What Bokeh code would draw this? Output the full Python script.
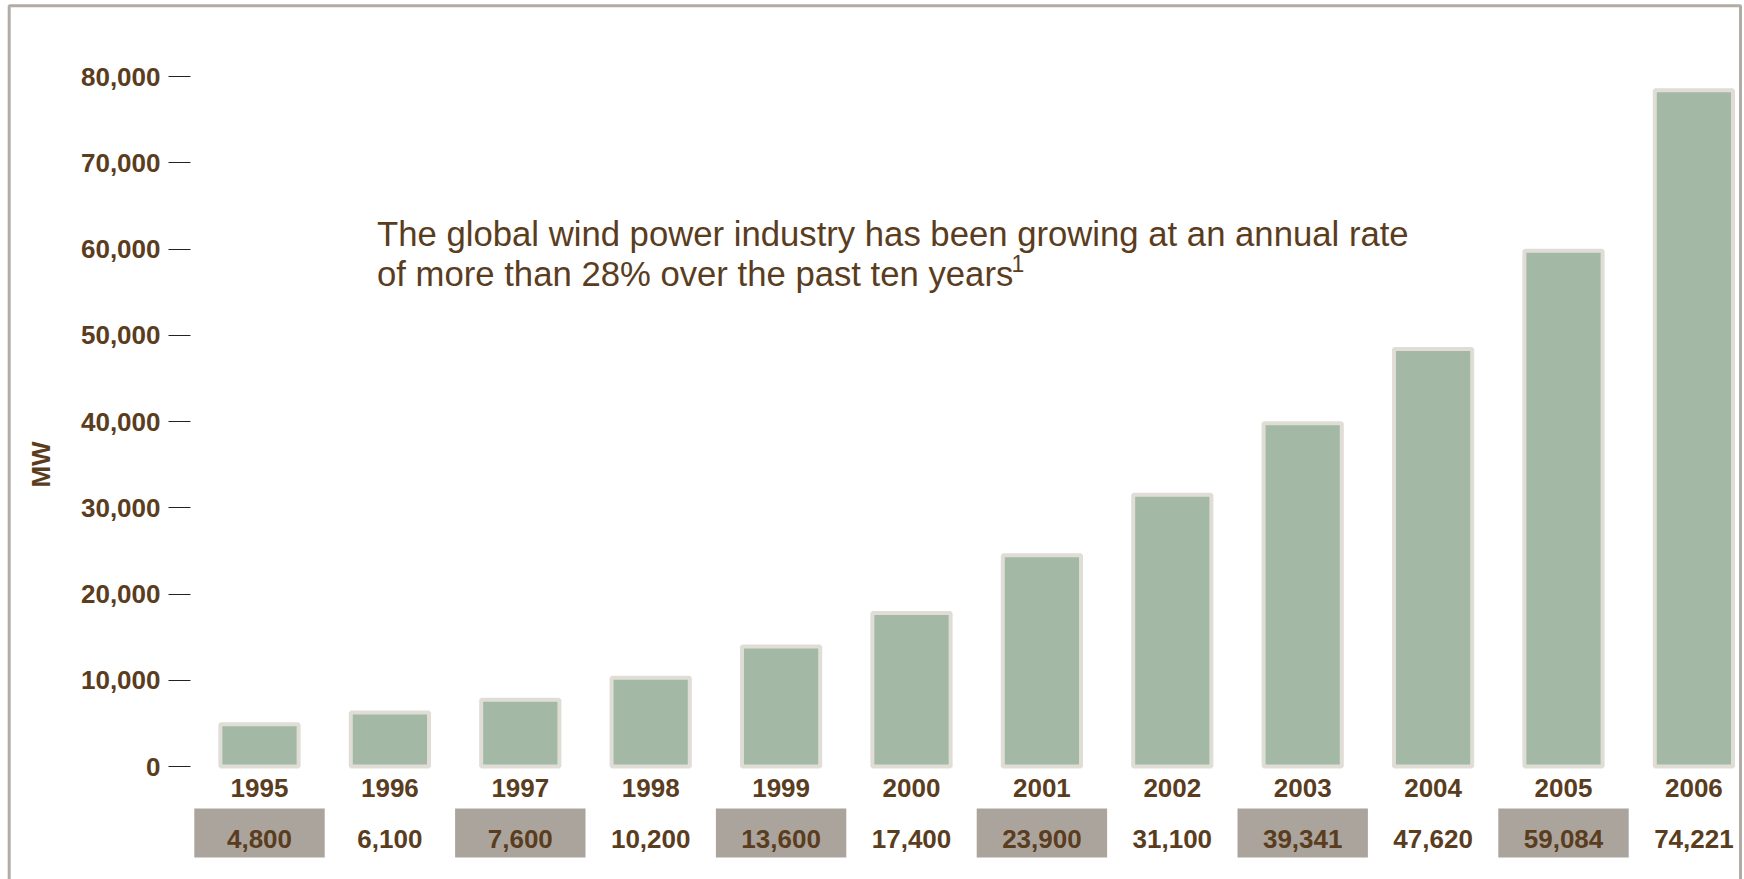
import math
from bokeh.plotting import figure
from bokeh.models import (Range1d, LinearAxis, FixedTicker, NumeralTickFormatter,
                          Label, BoxAnnotation, ColumnDataSource)
from bokeh.core.properties import value
from bokeh.embed import file_html
from bokeh.resources import INLINE

# ---------------- data ----------------
years = ["1995", "1996", "1997", "1998", "1999", "2000",
         "2001", "2002", "2003", "2004", "2005", "2006"]
# bar heights as drawn (MW)
bar_mw = [4900, 6250, 7750, 10300, 13900, 17800,
          24500, 31500, 39800, 48400, 59800, 78400]
# value row printed under the years
table_labels = ["4,800", "6,100", "7,600", "10,200", "13,600", "17,400",
                "23,900", "31,100", "39,341", "47,620", "59,084", "74,221"]
shaded_years = ["1995", "1997", "1999", "2001", "2003", "2005"]
y_ticks = [0, 10000, 20000, 30000, 40000, 50000, 60000, 70000, 80000]
y_label = "MW"
note_line1 = "The global wind power industry has been growing at an annual rate"
note_line2 = "of more than 28% over the past ten years"
note_sup = "1"

# ---------------- layout (pixels) ----------------
W, H = 1744, 879
X0_PX, X_STEP = 259.0, 130.4           # centre of first category, px per category
Y0_PX, Y_SCALE = 766.0, 690.0 / 80000  # pixel row of 0 MW, px per MW


def xd(px):
    return (px - X0_PX) / X_STEP


def yd(py):
    return (Y0_PX - py) / Y_SCALE


BROWN = "#5a3d1e"
BAR_FILL = "#a3b9a5"
BAR_EDGE = "#dfddd6"
BOX_FILL = "#aba49d"
FRAME = "#b3aca5"
FONT = "Liberation Sans"
LBL = "26px"

idx = list(range(len(years)))
src = ColumnDataSource(dict(x=idx, mw=bar_mw, label=table_labels, year=years))
shaded_idx = [years.index(y) for y in shaded_years]

p = figure(width=W, height=H, output_backend="svg", toolbar_location=None,
           x_range=Range1d(xd(0), xd(W)), y_range=Range1d(yd(H), yd(0)),
           x_axis_location=None, y_axis_location=None, min_border=0,
           outline_line_color=None, background_fill_color="white",
           border_fill_color="white")
p.grid.visible = False

# outer frame
p.add_layout(BoxAnnotation(left=xd(8.7), right=xd(1740), top=yd(5.3), bottom=yd(H + 40),
                           fill_alpha=0, line_color=FRAME, line_alpha=1.0,
                           line_width=3, level="underlay"))

# bars
p.vbar(x="x", top="mw", bottom=0, width=0.6, source=src,
       fill_color=BAR_FILL, line_color=BAR_EDGE, line_width=4)

# shaded boxes of value row
p.rect(x=shaded_idx, y=yd(832.5), width=1.0, height=49 / Y_SCALE,
       fill_color=BOX_FILL, line_color=None)

# value row text
p.text(x="x", y=yd(838), text="label", source=src,
       text_font=value(FONT), text_font_style="bold", text_font_size=value(LBL),
       text_color=BROWN, text_align="center", text_baseline="middle")

# y axis
yaxis = LinearAxis(fixed_location=xd(190), ticker=FixedTicker(ticks=y_ticks),
                   formatter=NumeralTickFormatter(format="0,0"))
yaxis.axis_line_color = None
yaxis.major_tick_out = 22
yaxis.major_tick_in = 0
yaxis.major_tick_line_color = "#222222"
yaxis.major_tick_line_width = 1
yaxis.minor_tick_line_color = None
yaxis.major_label_standoff = 8
yaxis.major_label_text_font = FONT
yaxis.major_label_text_font_style = "bold"
yaxis.major_label_text_font_size = LBL
yaxis.major_label_text_color = BROWN
p.add_layout(yaxis, "left")

# x axis (year labels)
xaxis = LinearAxis(fixed_location=0, ticker=FixedTicker(ticks=idx),
                   major_label_overrides={i: y for i, y in zip(idx, years)})
xaxis.axis_line_color = None
xaxis.major_tick_line_color = None
xaxis.minor_tick_line_color = None
xaxis.major_label_standoff = 6
xaxis.major_label_text_font = FONT
xaxis.major_label_text_font_style = "bold"
xaxis.major_label_text_font_size = LBL
xaxis.major_label_text_color = BROWN
p.add_layout(xaxis, "below")

# axis title
p.add_layout(Label(x=xd(40.5), y=yd(464), text=y_label, angle=math.pi / 2,
                   text_font=FONT, text_font_style="bold", text_font_size=LBL,
                   text_color=BROWN, text_align="center", text_baseline="middle"))

# annotation
p.add_layout(Label(x=xd(376.5), y=yd(233.5), text=note_line1, text_font=FONT,
                   text_font_size="34.7px", text_color=BROWN,
                   text_align="left", text_baseline="alphabetic"))
p.add_layout(Label(x=xd(376.5), y=yd(273), text=note_line2, text_font=FONT,
                   text_font_size="34.7px", text_color=BROWN,
                   text_align="left", text_baseline="alphabetic"))
p.add_layout(Label(x=xd(1011), y=yd(263), text=note_sup, text_font=FONT,
                   text_font_size="23px", text_color=BROWN,
                   text_align="left", text_baseline="alphabetic"))

open("out.html", "w").write(file_html(p, INLINE))
